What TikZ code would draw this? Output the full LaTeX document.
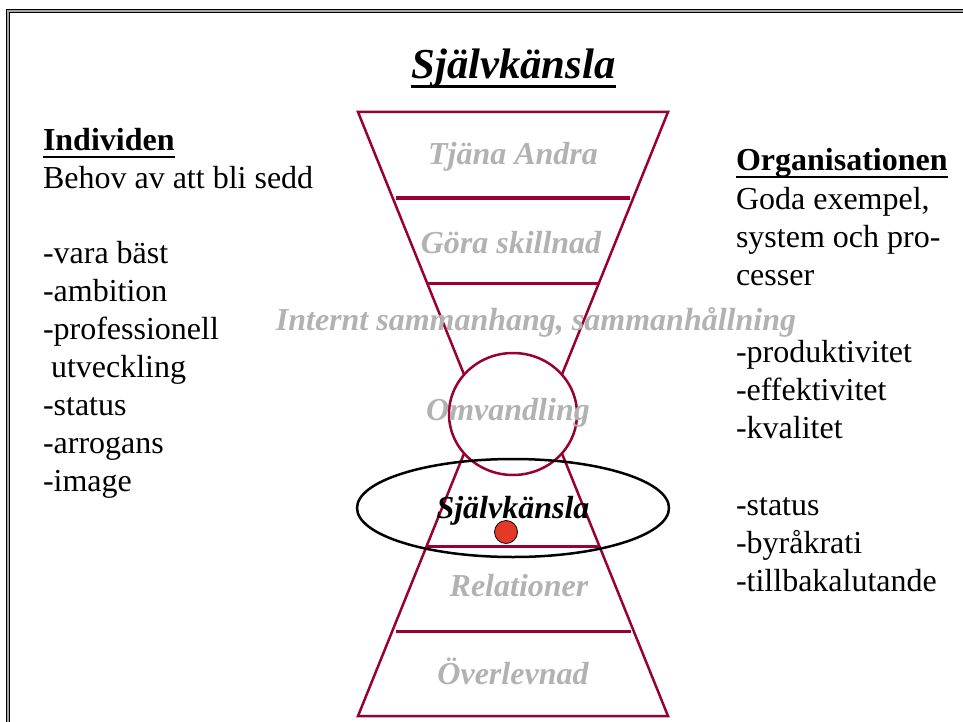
\documentclass[tikz,border=0pt]{standalone}
\usepackage{fontspec}
\setmainfont{Liberation Serif}
\usetikzlibrary{calc,positioning}
\definecolor{funnelred}{RGB}{153,0,51}
\definecolor{levelgray}{RGB}{178,178,178}
\definecolor{dotred}{RGB}{229,57,40}
\tikzset{
    every node/.style={inner sep=0pt,outer sep=0pt},
    level node/.style={anchor=base,text=levelgray,font=\fontsize{32}{38}\selectfont\bfseries\itshape},
    side node/.style={anchor=base west,font=\fontsize{32}{38}\selectfont},
    head node/.style={side node,font=\fontsize{32}{38}\selectfont\bfseries},
    funnel line/.style={draw=funnelred,line width=2.5pt,line join=miter},
    divider/.style={draw=funnelred,line width=3pt}
}

\begin{document}
\begin{tikzpicture}[x=1pt,y=-1pt]
    \useasboundingbox (0,0) rectangle (963,722);
    % frame
    \draw[line width=4.4pt,line join=miter] (8,722) -- (8,11) -- (963,11);
    \draw[line width=2pt,gray!70,line join=miter] (8,722) -- (8,11) -- (963,11);

    % hourglass
    \draw[funnel line] (358,112) -- (668,112) -- (546,414) -- (480,414) -- cycle;
    \draw[funnel line] (358,716) -- (668,716) -- (546,414) -- (480,414) -- cycle;
    \draw[divider] (396,198) -- (630,198);
    \draw[divider] (427,283) -- (599,283);
    \draw[divider] (426,546) -- (600,546);
    \draw[divider] (396,631) -- (631,631);
    \draw[funnel line,fill=white] (513,414) ellipse [x radius=64, y radius=61];

    % levels
    \node[level node] (tjana) at (513,165) {Tjäna Andra};
    \node[level node] (gora) at (511,253) {Göra skillnad};
    \node[level node] (internt) at (536,330) {Internt sammanhang, sammanhållning};
    \node[level node] (omvandling) at (508,420) {Omvandling};
    \node[level node,text=black] (sjalv) at (513,518) {Självkänsla};
    \node[level node] (relationer) at (519,596) {Relationer};
    \node[level node] (overlevnad) at (513,684) {Överlevnad};
    \draw[line width=2.5pt] (513,508) ellipse [x radius=156, y radius=49];
    \draw[fill=dotred,line width=0.8pt] (506,532) circle [radius=11.5];

    % title
    \node[anchor=base,font=\fontsize{42.7}{50}\selectfont\bfseries\itshape] (title) at (513.5,79) {Självkänsla};
    \draw[line width=3pt] ([yshift=-7.5pt]title.base west) -- ([yshift=-7.5pt]title.base east);

    % left column
    \node[head node] (ind) at (43,151) {Individen};
    \draw[line width=2.5pt] ([yshift=-6pt]ind.base west) -- ([yshift=-6pt]ind.base east);
    \foreach \y/\txt [count=\i] in {188.5/Behov av att bli sedd, 263/-vara bäst, 301/-ambition,
        339/-professionell, 377/\ utveckling, 415/-status, 453/-arrogans, 491/-image}
        \node[side node] (ind\i) at (43,\y) {\txt};

    % right column
    \node[head node] (org) at (736,171) {Organisationen};
    \draw[line width=2.5pt] ([yshift=-6pt]org.base west) -- ([yshift=-6pt]org.base east);
    \foreach \y/\txt [count=\i] in {209/{Goda exempel,}, 247/system och pro-, 285/cesser,
        362/-produktivitet, 400/-effektivitet, 438/-kvalitet,
        515/-status, 553/-byråkrati, 591/-tillbakalutande}
        \node[side node] (org\i) at (736,\y) {\txt};
\end{tikzpicture}
\end{document}
